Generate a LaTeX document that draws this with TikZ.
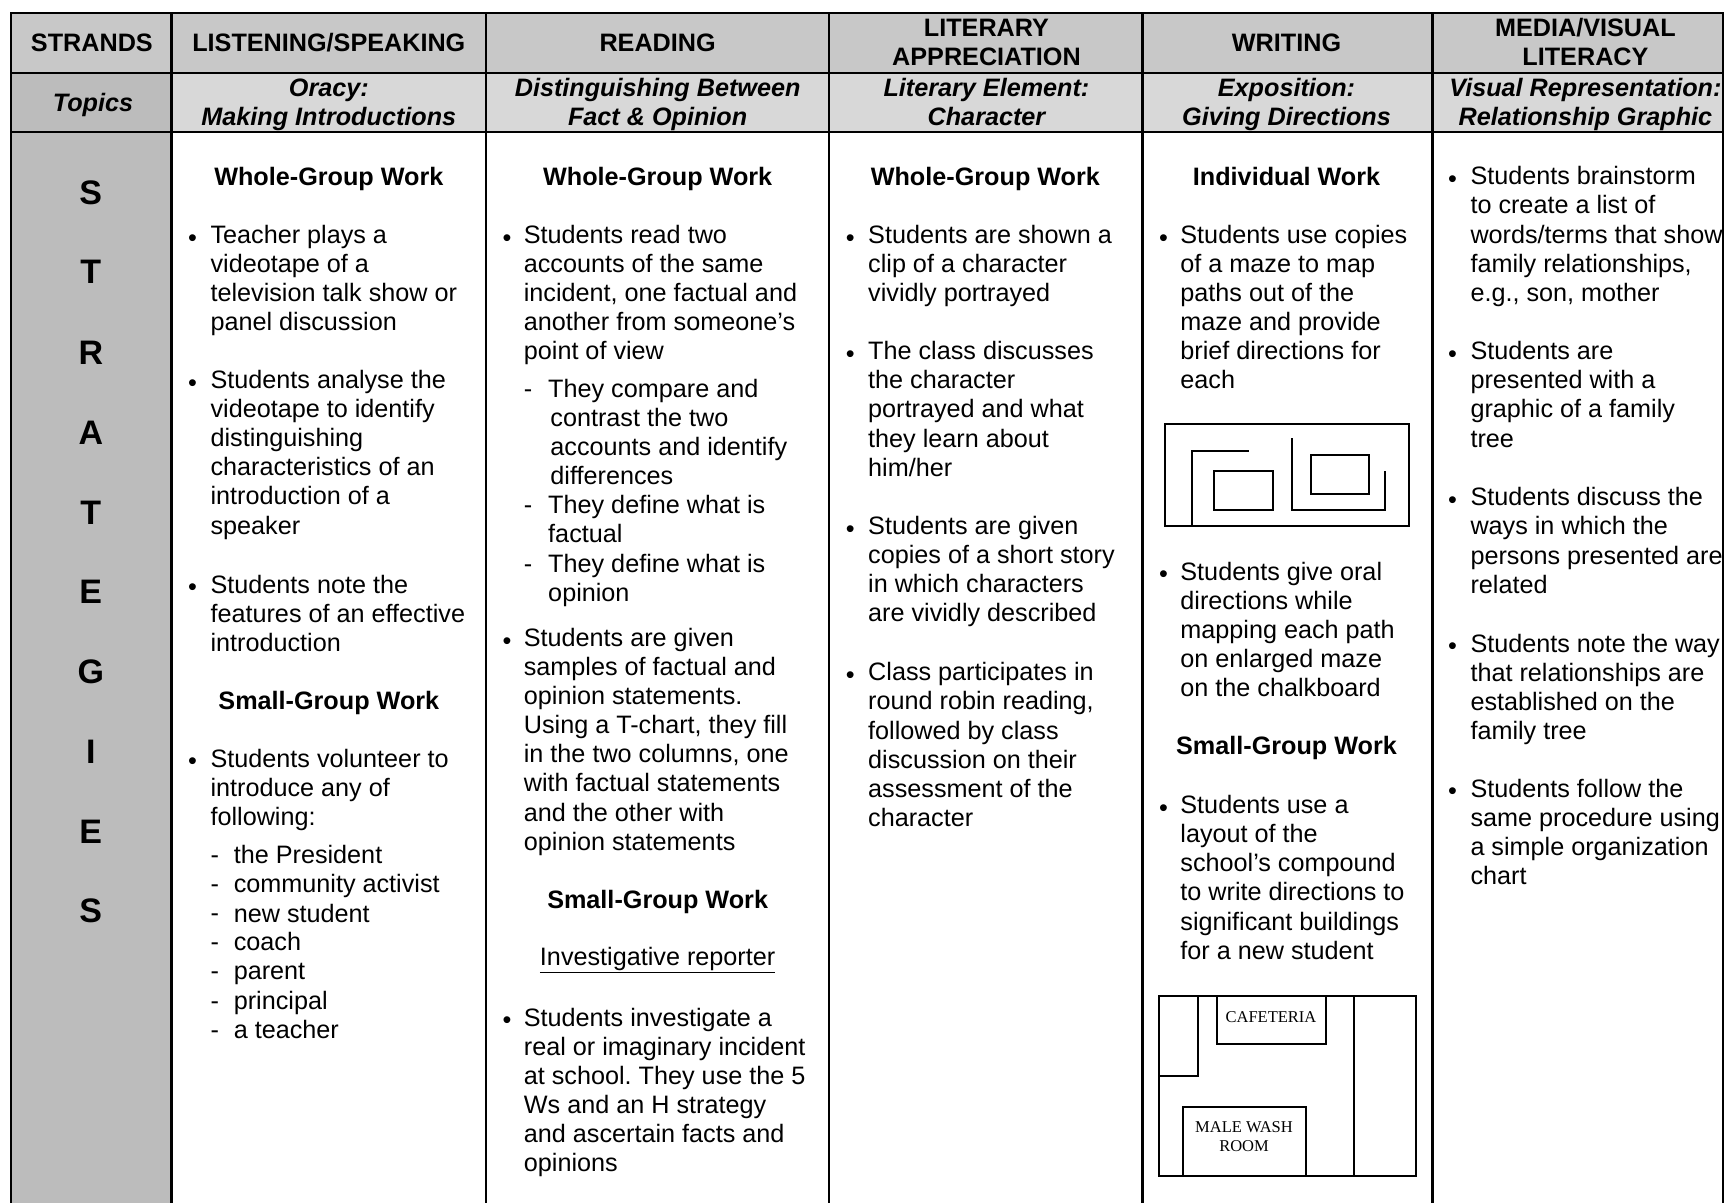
\documentclass[tikz,border=0pt]{standalone}
\usepackage{fontspec}
\setmainfont{Liberation Sans}
\newfontfamily\planfont{Liberation Serif}
\newcommand\bodysize{\fontsize{25.2}{29.1}\selectfont\frenchspacing}
\definecolor{hdrgray}{HTML}{C8C8C8}
\definecolor{toprow}{HTML}{D8D8D8}
\definecolor{sidegray}{HTML}{BCBCBC}
\tikzset{
  para/.style={inner sep=0pt,anchor=north west,align=left,font=\bodysize,yshift=9.7pt,
    execute at begin node={\rule{0pt}{18pt}}},
  bul/.style={inner sep=0pt,anchor=center,font=\bodysize,xshift=1pt,yshift=-5.5pt},
  head/.style={inner sep=0pt,anchor=center,align=center,font=\bodysize\bfseries,yshift=-3.2pt,
    execute at begin node={\rule{0pt}{18pt}},execute at end node={\rule[-6pt]{0pt}{6pt}}},
  topic/.style={head,font=\bodysize\bfseries\itshape},
  letter/.style={inner sep=0pt,anchor=center,font=\fontsize{34}{38}\selectfont\bfseries,yshift=-1pt},
  rule line/.style={line width=2.4pt,black},
  plan line/.style={line width=1.9pt,black},
  plan text/.style={inner sep=0pt,anchor=center,align=center,font=\planfont\fontsize{16.5}{19}\selectfont},
}
% name, bullet x, text x, y, text
\newcommand\bp[5]{\node[bul] (#1b) at (#2,#4) {•};\node[para] (#1) at (#3,#4) {#5};}
\newcommand\dl[5]{\node[para] (#1d) at (#2,#4) {-};\node[para] (#1) at (#3,#4) {#5};}
\begin{document}
\begin{tikzpicture}[x=1.10714pt,y=-1.10714pt]
\useasboundingbox (0,0) rectangle (1568,1086.56);
% fills
\fill[hdrgray] (10,12) rectangle (1556,66);
\fill[toprow] (10,66) rectangle (1556,119);
\fill[sidegray] (10,66) rectangle (155,1086.56);
% rules
\draw[rule line] (10,1086.56) -- (10,12) -- (1556,12) -- (1556,1086.56);
\draw[rule line] (10,66) -- (1556,66);
\draw[rule line] (10,119) -- (1556,119);
\foreach \cx in {155,439,749,1032,1294}
  \draw[rule line] (\cx,12) -- (\cx,1086.56);
% headers
\node[head] (h0) at (83,38) {STRANDS};
\node[head] (h1) at (297,38) {LISTENING/SPEAKING};
\node[head] (h2) at (594,38) {READING};
\node[head] (h3) at (891,38) {LITERARY\\APPRECIATION};
\node[head] (h4) at (1162,38) {WRITING};
\node[head] (h5) at (1432,38) {MEDIA/VISUAL\\LITERACY};
\node[topic] (t0) at (84,92) {Topics};
\node[topic] (t1) at (297,92) {Oracy:\\Making Introductions};
\node[topic] (t2) at (594,92) {Distinguishing Between\\Fact \& Opinion};
\node[topic] (t3) at (891,92) {Literary Element:\\Character};
\node[topic] (t4) at (1162,92) {Exposition:\\Giving Directions};
\node[topic] (t5) at (1432,92) {Visual Representation:\\Relationship Graphic};
% side letters
\node[letter] (s1) at (82,173) {S};
\node[letter] (s2) at (82,245) {T};
\node[letter] (s3) at (82,318) {R};
\node[letter] (s4) at (82,390) {A};
\node[letter] (s5) at (82,462) {T};
\node[letter] (s6) at (82,534) {E};
\node[letter] (s7) at (82,606) {G};
\node[letter] (s8) at (82,678) {I};
\node[letter] (s9) at (82,750) {E};
\node[letter] (s10) at (82,822) {S};
% column 1
\node[head] (a0) at (297,159) {Whole-Group Work};
\bp{a1}{173}{190}{212}{Teacher plays a\\videotape of a\\television talk show or\\panel discussion}
\bp{a2}{173}{190}{343}{Students analyse the\\videotape to identify\\distinguishing\\characteristics of an\\introduction of a\\speaker}
\bp{a3}{173}{190}{528}{Students note the\\features of an effective\\introduction}
\node[head] (a4) at (297,632.2) {Small-Group Work};
\bp{a5}{173}{190}{685}{Students volunteer to\\introduce any of\\following:}
\dl{a6}{190}{211}{772}{the President}
\dl{a7}{190}{211}{798}{community activist}
\dl{a8}{190}{211}{825}{new student}
\dl{a9}{190}{211}{851}{coach}
\dl{a10}{190}{211}{877}{parent}
\dl{a11}{190}{211}{904}{principal}
\dl{a12}{190}{211}{930}{a teacher}
% column 2
\node[head] (b0) at (594,159) {Whole-Group Work};
\bp{b1}{457}{473}{212}{Students read two\\accounts of the same\\incident, one factual and\\another from someone’s\\point of view}
\dl{b2}{473}{495}{351}{They compare and}
\node[para] (b2x) at (497,377) {contrast the two\\accounts and identify\\differences};
\dl{b3}{473}{495}{456}{They define what is\\factual}
\dl{b4}{473}{495}{509}{They define what is\\opinion}
\bp{b5}{457}{473}{576}{Students are given\\samples of factual and\\opinion statements.\\Using a T-chart, they fill\\in the two columns, one\\with factual statements\\and the other with\\opinion statements}
\node[head] (b6) at (594,812.2) {Small-Group Work};
\node[inner sep=0pt,anchor=center,font=\bodysize] (b7) at (594,867.5) {\underline{Investigative reporter}};
\bp{b8}{457}{473}{919}{Students investigate a\\real or imaginary incident\\at school. They use the 5\\Ws and an H strategy\\and ascertain facts and\\opinions}
% column 3
\node[head] (c0) at (890,159) {Whole-Group Work};
\bp{c1}{767}{784}{212}{Students are shown a\\clip of a character\\vividly portrayed}
\bp{c2}{767}{784}{317}{The class discusses\\the character\\portrayed and what\\they learn about\\him/her}
\bp{c3}{767}{784}{475}{Students are given\\copies of a short story\\in which characters\\are vividly described}
\bp{c4}{767}{784}{607}{Class participates in\\round robin reading,\\followed by class\\discussion on their\\assessment of the\\character}
% column 4
\node[head] (d0) at (1162,159) {Individual Work};
\bp{d1}{1050}{1066}{212}{Students use copies\\of a maze to map\\paths out of the\\maze and provide\\brief directions for\\each}
\bp{d2}{1050}{1066}{516}{Students give oral\\directions while\\mapping each path\\on enlarged maze\\on the chalkboard}
\node[head] (d3) at (1162,673.2) {Small-Group Work};
\bp{d4}{1050}{1066}{727}{Students use a\\layout of the\\school’s compound\\to write directions to\\significant buildings\\for a new student}
% column 5
\bp{e1}{1311}{1328}{159}{Students brainstorm\\to create a list of\\words/terms that show\\family relationships,\\e.g., son, mother}
\bp{e2}{1311}{1328}{317}{Students are\\presented with a\\graphic of a family\\tree}
\bp{e3}{1311}{1328}{449}{Students discuss the\\ways in which the\\persons presented are\\related}
\bp{e4}{1311}{1328}{581}{Students note the way\\that relationships are\\established on the\\family tree}
\bp{e5}{1311}{1328}{712}{Students follow the\\same procedure using\\a simple organization\\chart}
% maze and plan (reference pixels)
\begin{scope}[x=1pt,y=-1pt]
\draw[plan line] (1165.3,424) rectangle (1408.7,526);
\draw[plan line] (1192,526) -- (1192,451) -- (1249.3,451);
\draw[plan line] (1214.3,471) rectangle (1272.7,510.3);
\draw[plan line] (1292.3,438.3) -- (1292.3,510.3) -- (1385.3,510.3) -- (1385.3,471);
\draw[plan line] (1311,455) rectangle (1369,494.3);
\draw[plan line] (1159,995.7) rectangle (1416,1175.7);
\draw[plan line] (1159,1075.7) -- (1198.4,1075.7) -- (1198.4,995.7);
\draw[plan line] (1216.6,995.7) rectangle (1326,1044);
\draw[line width=1.6pt] (1354.2,995.7) -- (1354.2,1175.7);
\draw[plan line] (1183,1175.7) rectangle (1305.9,1106.7);
\node[plan text] (caf) at (1271,1016.7) {CAFETERIA};
\node[plan text] (wash) at (1244,1136.2) {MALE WASH\\ROOM};
\end{scope}
\end{tikzpicture}
\end{document}
